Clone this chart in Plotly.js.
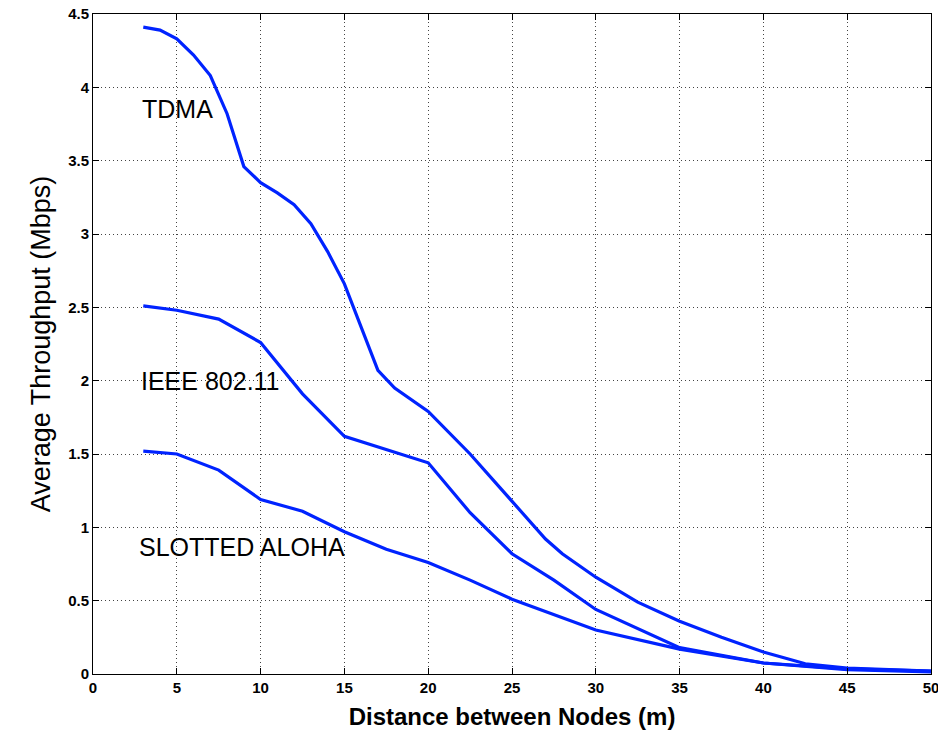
<!DOCTYPE html>
<html>
<head>
<meta charset="utf-8">
<script src="https://cdn.plot.ly/plotly-3.0.1.min.js"></script>
<style>html,body{margin:0;padding:0;background:#fff;}#chart{width:938px;height:735px;}</style>
</head>
<body>
<div id="chart"></div>
<script>
const tdmaX = [3,4,5,6,7,8,9,10,11,12,13,14,15,16,17,18,20,22.5,25,27,28,30,32.5,35,37.5,40,42.5,45,47.5,50];
const tdmaY = [4.41,4.39,4.33,4.22,4.08,3.82,3.46,3.35,3.28,3.20,3.07,2.88,2.66,2.37,2.07,1.95,1.79,1.50,1.18,0.92,0.82,0.66,0.49,0.36,0.25,0.15,0.07,0.04,0.03,0.02];
const ieeeX = [3,5,7.5,10,12.5,15,20,22.5,25,27.5,30,35,40,45,50];
const ieeeY = [2.51,2.48,2.42,2.26,1.91,1.62,1.44,1.10,0.82,0.64,0.44,0.18,0.075,0.035,0.02];
const alohaX = [3,5,7.5,10,12.5,15,17.5,20,22.5,25,30,35,40,45,50];
const alohaY = [1.52,1.50,1.39,1.19,1.11,0.97,0.85,0.76,0.64,0.51,0.30,0.17,0.075,0.03,0.015];
const seriesNames = ["TDMA","IEEE 802.11","SLOTTED ALOHA"];
const labelX = [2.8,2.75,2.6];
const labelY = [3.85,2.0,0.865];
const xTicks = [0,5,10,15,20,25,30,35,40,45,50];
const yTicks = [0,0.5,1,1.5,2,2.5,3,3.5,4,4.5];
const yTickText = ["0","0.5","1","1.5","2","2.5","3","3.5","4","4.5"];

const FONT = 'Liberation Sans, Arial, sans-serif';
const lineStyle = {color:'rgb(0,35,255)', width:3.2};
const traces = [
  {x:tdmaX, y:tdmaY, mode:'lines', line:lineStyle, name:seriesNames[0]},
  {x:ieeeX, y:ieeeY, mode:'lines', line:lineStyle, name:seriesNames[1]},
  {x:alohaX, y:alohaY, mode:'lines', line:lineStyle, name:seriesNames[2]}
];
const annotations = seriesNames.map((n,i)=>({
  x:labelX[i], y:labelY[i], xref:'x', yref:'y', text:n, showarrow:false,
  xanchor:'left', yanchor:'middle',
  font:{family:FONT, size:25, color:'#000'}
}));
const axisCommon = {
  showline:true, linecolor:'#000', linewidth:1, mirror:'ticks',
  ticks:'inside', ticklen:6, tickcolor:'#000',
  showgrid:true, gridcolor:'#444', griddash:'1px,3px', gridwidth:1,
  zeroline:false, ticklabeloverflow:'allow',
  tickfont:{family:FONT, size:15, color:'#000', weight:'bold'}
};
const layout = {
  width:938, height:735,
  margin:{l:93, r:7, t:14, b:61},
  paper_bgcolor:'#fff', plot_bgcolor:'#fff',
  showlegend:false,
  xaxis:Object.assign({}, axisCommon, {
    range:[0,50], tickvals:xTicks,
    title:{text:'Distance between Nodes (m)', standoff:13,
      font:{family:FONT, size:24, color:'#000', weight:'bold'}}
  }),
  yaxis:Object.assign({}, axisCommon, {
    range:[0,4.5], tickvals:yTicks, ticktext:yTickText,
    title:{text:'Average Throughput (Mbps)', standoff:9,
      font:{family:FONT, size:27, color:'#000'}}
  }),
  annotations:annotations
};
Plotly.newPlot('chart', traces, layout, {displayModeBar:false, staticPlot:true});
</script>
</body>
</html>
